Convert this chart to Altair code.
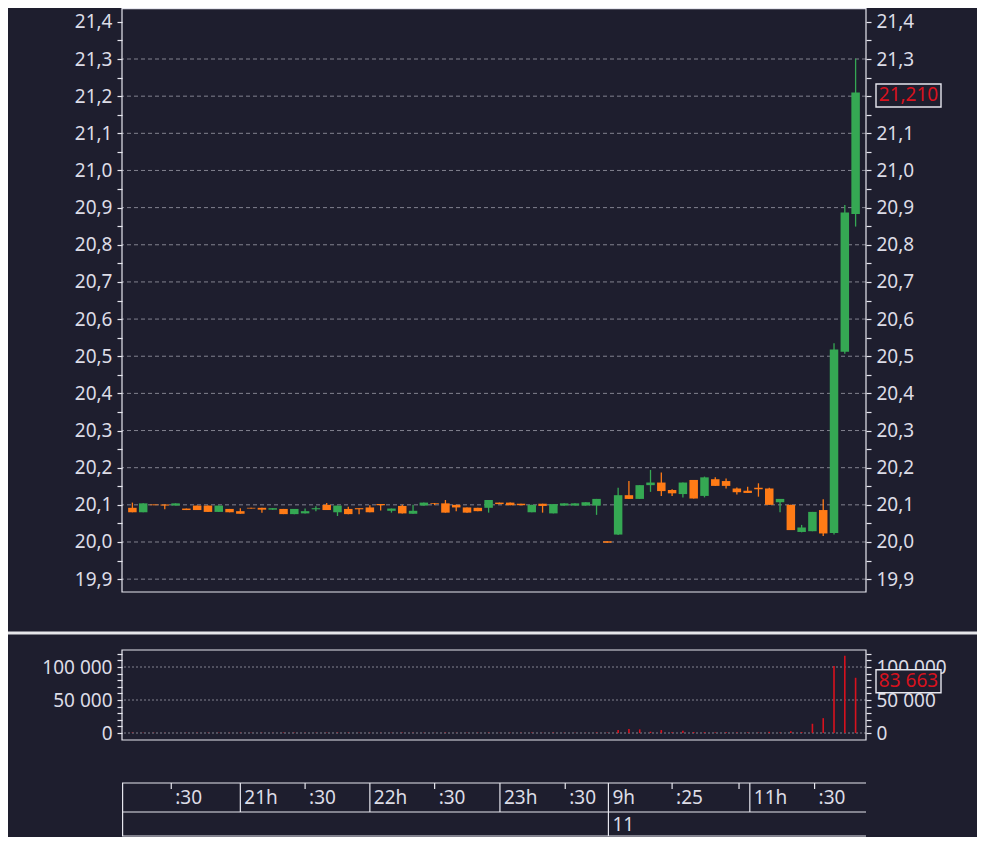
import altair as alt
import pandas as pd

# ---------------- data ----------------
opens = [20.092, 20.080, 20.101, 20.101, 20.098, 20.090, 20.098, 20.098, 20.081, 20.089,
         20.083, 20.092, 20.092, 20.087, 20.089, 20.075, 20.077, 20.088, 20.100, 20.080,
         20.089, 20.091, 20.093, 20.102, 20.084, 20.097, 20.076, 20.098, 20.105, 20.104,
         20.100, 20.093, 20.092, 20.092, 20.106, 20.106, 20.103, 20.080, 20.103, 20.077,
         20.098, 20.098, 20.098, 20.098, 20.002, 20.020, 20.126, 20.116, 20.153, 20.160,
         20.140, 20.129, 20.167, 20.124, 20.169, 20.164, 20.144, 20.138, 20.146, 20.144,
         20.107, 20.100, 20.027, 20.029, 20.086, 20.024, 20.512, 20.883]
closes = [20.080, 20.104, 20.099, 20.098, 20.104, 20.086, 20.086, 20.081, 20.098, 20.080,
          20.076, 20.090, 20.087, 20.091, 20.075, 20.089, 20.083, 20.091, 20.086, 20.098,
          20.075, 20.088, 20.080, 20.099, 20.090, 20.077, 20.084, 20.106, 20.103, 20.079,
          20.093, 20.079, 20.083, 20.113, 20.102, 20.099, 20.099, 20.100, 20.097, 20.102,
          20.104, 20.104, 20.107, 20.116, 19.998, 20.126, 20.116, 20.153, 20.160, 20.137,
          20.131, 20.160, 20.117, 20.174, 20.151, 20.151, 20.134, 20.132, 20.142, 20.100,
          20.116, 20.032, 20.039, 20.081, 20.023, 20.518, 20.887, 21.210]
highs = [20.106, 20.104, 20.101, 20.101, 20.104, 20.090, 20.098, 20.098, 20.098, 20.089,
         20.091, 20.092, 20.092, 20.091, 20.089, 20.089, 20.090, 20.096, 20.105, 20.098,
         20.095, 20.091, 20.099, 20.102, 20.090, 20.100, 20.100, 20.106, 20.105, 20.113,
         20.100, 20.093, 20.092, 20.113, 20.106, 20.106, 20.103, 20.100, 20.103, 20.102,
         20.104, 20.104, 20.107, 20.116, 20.002, 20.146, 20.164, 20.153, 20.194, 20.187,
         20.142, 20.160, 20.167, 20.176, 20.174, 20.171, 20.147, 20.149, 20.158, 20.146,
         20.116, 20.100, 20.046, 20.081, 20.115, 20.535, 20.907, 21.301]
lows = [20.080, 20.080, 20.099, 20.088, 20.098, 20.086, 20.086, 20.081, 20.081, 20.080,
        20.076, 20.090, 20.079, 20.087, 20.075, 20.075, 20.077, 20.083, 20.086, 20.070,
        20.075, 20.075, 20.080, 20.085, 20.079, 20.077, 20.076, 20.098, 20.099, 20.079,
        20.083, 20.079, 20.083, 20.079, 20.102, 20.099, 20.099, 20.080, 20.079, 20.077,
        20.098, 20.098, 20.098, 20.073, 19.998, 20.019, 20.116, 20.116, 20.135, 20.124,
        20.124, 20.120, 20.117, 20.120, 20.151, 20.144, 20.128, 20.132, 20.122, 20.100,
        20.080, 20.032, 20.026, 20.029, 20.016, 20.020, 20.507, 20.849]
volumes = [600, 300, 200, 250, 150, 300, 500, 400, 450, 350,
           500, 200, 300, 250, 700, 600, 400, 350, 500, 650,
           550, 300, 500, 300, 350, 600, 400, 450, 250, 700,
           300, 450, 400, 600, 250, 300, 200, 650, 300, 700,
           250, 200, 300, 800, 600, 4500, 6000, 5500, 2000, 4500,
           1200, 3500, 1500, 1300, 900, 1000, 700, 800, 600, 1800,
           900, 2800, 1400, 14000, 22500, 101500, 117000, 83663]

price_axis_values = [round(19.9 + 0.05 * k, 2) for k in range(31)]
price_grid_values = [19.9, 20.0, 20.1, 20.2, 20.3, 20.4, 20.5, 20.6, 20.7, 20.8, 20.9, 21.0, 21.1, 21.2, 21.3]
vol_axis_values = [0, 10000, 20000, 30000, 40000, 50000, 60000, 70000, 80000, 90000, 100000, 110000, 120000]
vol_grid_values = [0, 50000, 100000]

time_tick_pos = [3.6, 16.0, 28.0, 40.1, 50.0, 56.2, 63.2]
hour_div_pos = [10.0, 22.0, 34.05, 57.2]
day_div_pos = [44.1]
time_label_pos = [3.6, 10.0, 16.0, 22.0, 28.0, 34.05, 40.1, 44.1, 50.0, 57.2, 63.2]
time_labels = [":30", "21h", ":30", "22h", ":30", "23h", ":30", "9h", ":25", "11h", ":30"]
day_label_pos = [44.1]
day_labels = ["11"]

# ---------------- style ----------------
BG = "#1e1e2e"
FG = "#dcdce6"
LINE = "#e6e6ee"
GRID = "#82828f"
GREEN = "#35a853"
ORANGE = "#ff7b16"
RED = "#d8121e"
FONT = "Noto Sans"
FS = 19
W = 744
H = 829
BOX = "M-1.3,-0.46L1.3,-0.46L1.3,0.46L-1.3,0.46Z"

n = len(opens)
df = pd.DataFrame({"i": list(range(n)), "open": opens, "high": highs, "low": lows,
                   "close": closes, "vol": volumes})
df["dir"] = ["up" if c >= o else "down" for o, c in zip(opens, closes)]

xscale = alt.Scale(domain=[-0.5, n - 0.5], nice=False, zero=False)
price_scale = alt.Scale(domain=[19.8654, 21.4373], range=[584, 0], nice=False, zero=False)
vol_scale = alt.Scale(domain=[-10606, 125758], range=[732, 642], nice=False, zero=False)

price_expr = ("abs(datum.value * 10 - round(datum.value * 10)) < 0.01 ? "
              "replace(format(datum.value, '.1f'), '.', ',') : ''")
# on the right side the last-price box covers the 21,2 label
price_expr_right = ("abs(datum.value * 10 - round(datum.value * 10)) < 0.01 && "
                    "abs(datum.value - 21.2) > 0.01 ? "
                    "replace(format(datum.value, '.1f'), '.', ',') : ''")
vol_expr = "datum.value % 50000 == 0 ? replace(format(datum.value, ','), ',', ' ') : ''"


def make_axis(orient, values, expr):
    return alt.Axis(orient=orient, values=values, labelExpr=expr, title=None, grid=False,
                    domain=False, ticks=True, tickSize=5, tickWidth=1.2, tickColor=LINE,
                    labelPadding=5, labelFont=FONT, labelFontSize=FS, labelColor=FG,
                    labelOverlap=False)


def axis_layer(values, field, scale, orient, expr):
    return alt.Chart(pd.DataFrame({field: values})).mark_rule(opacity=0).encode(
        y=alt.Y(f"{field}:Q", scale=scale, axis=make_axis(orient, values, expr)))


X = alt.X("i:Q", scale=xscale, axis=None)
color_enc = alt.Color("dir:N", scale=alt.Scale(domain=["up", "down"], range=[GREEN, ORANGE]),
                      legend=None)
base = alt.Chart(df)

# ---- candles panel ----
grid = alt.Chart(pd.DataFrame({"p": price_grid_values})).mark_rule(
    color=GRID, strokeDash=[4, 3], strokeWidth=1).encode(
    y=alt.Y("p:Q", scale=price_scale, axis=None))
wicks = base.mark_rule(strokeWidth=1.3).encode(
    x=X, y=alt.Y("low:Q", scale=price_scale, axis=None), y2="high:Q", color=color_enc)
bodies = base.mark_bar(width=8.5).encode(
    x=X, y=alt.Y("open:Q", scale=price_scale, axis=None), y2="close:Q", color=color_enc)
last = base.transform_filter(f"datum.i == {n - 1}").transform_calculate(
    plbl="replace(format(datum.close, '.3f'), '.', ',')",
    vlbl="replace(format(datum.vol, ','), ',', ' ')")
pbox = last.mark_point(shape=BOX, size=2500, filled=True, fill=BG, fillOpacity=1, opacity=1,
                       stroke=LINE, strokeWidth=1.4, yOffset=3).encode(
    x=alt.value(786.5), y=alt.Y("close:Q", scale=price_scale, axis=None))
ptxt = last.mark_text(color=RED, font=FONT, fontSize=FS, align="center", baseline="middle",
                      yOffset=3).encode(
    x=alt.value(786.5), y=alt.Y("close:Q", scale=price_scale, axis=None), text="plbl:N")
candles = alt.layer(grid, wicks, bodies, pbox, ptxt)

price_left = axis_layer(price_axis_values, "p", price_scale, "left", price_expr)
price_right = axis_layer(price_axis_values, "p", price_scale, "right", price_expr_right)

# ---- volume panel ----
vgrid = alt.Chart(pd.DataFrame({"v": vol_grid_values})).mark_rule(
    color=GRID, strokeDash=[2, 2], strokeWidth=1).encode(
    y=alt.Y("v:Q", scale=vol_scale, axis=None))
vbars = base.mark_rule(color=RED, strokeWidth=1.6).encode(
    x=X, y=alt.Y("vol:Q", scale=vol_scale, axis=None), y2=alt.Y2Datum(0))
vbox = last.mark_point(shape=BOX, size=2500, filled=True, fill=BG, fillOpacity=1, opacity=1,
                       stroke=LINE, strokeWidth=1.4, yOffset=3.5).encode(
    x=alt.value(786.5), y=alt.Y("vol:Q", scale=vol_scale, axis=None))
vtxt = last.mark_text(color=RED, font=FONT, fontSize=FS, align="center", baseline="middle",
                      yOffset=3.5).encode(
    x=alt.value(786.5), y=alt.Y("vol:Q", scale=vol_scale, axis=None), text="vlbl:N")
vol = alt.layer(vgrid, vbars, vbox, vtxt)

vol_left = axis_layer(vol_axis_values, "v", vol_scale, "left", vol_expr)
vol_right = axis_layer(vol_axis_values, "v", vol_scale, "right", vol_expr)

# ---- frames & separators ----
one = pd.DataFrame({"k": [0]})
frame1 = alt.Chart(one).mark_rect(fillOpacity=0, stroke=LINE, strokeWidth=1.2).encode(
    x=alt.value(0), x2=alt.value(W), y=alt.value(0.6), y2=alt.value(584))
frame2 = alt.Chart(one).mark_rect(fillOpacity=0, stroke=LINE, strokeWidth=1.2).encode(
    x=alt.value(0), x2=alt.value(W), y=alt.value(642), y2=alt.value(732))
sep = alt.Chart(one).mark_rule(color="#e6e6ea", strokeWidth=3).encode(
    x=alt.value(-114), x2=alt.value(W + 111), y=alt.value(625))


def hline(y):
    return alt.Chart(one).mark_rule(color=LINE, strokeWidth=1.2).encode(
        x=alt.value(0), x2=alt.value(W), y=alt.value(y))


t_top, t_mid, t_bot = 775, 804, 828
tlines = [hline(t_top), hline(t_mid), hline(t_bot),
          alt.Chart(one).mark_rule(color=LINE, strokeWidth=1.2).encode(
              x=alt.value(0.6), y=alt.value(t_top), y2=alt.value(t_bot))]
hdiv = alt.Chart(pd.DataFrame({"pos": hour_div_pos})).mark_rule(color=LINE, strokeWidth=1.2).encode(
    x=alt.X("pos:Q", scale=xscale, axis=None), y=alt.value(t_top), y2=alt.value(t_mid))
ddiv = alt.Chart(pd.DataFrame({"pos": day_div_pos})).mark_rule(color=LINE, strokeWidth=1.2).encode(
    x=alt.X("pos:Q", scale=xscale, axis=None), y=alt.value(t_top), y2=alt.value(t_bot))
tticks = alt.Chart(pd.DataFrame({"pos": time_tick_pos})).mark_rule(color=LINE, strokeWidth=1.2).encode(
    x=alt.X("pos:Q", scale=xscale, axis=None), y=alt.value(t_top), y2=alt.value(t_top + 6))
tlabels = alt.Chart(pd.DataFrame({"pos": time_label_pos, "lbl": time_labels})).mark_text(
    align="left", baseline="middle", dx=4, font=FONT, fontSize=FS, color=FG).encode(
    x=alt.X("pos:Q", scale=xscale, axis=None), y=alt.value(790), text="lbl:N")
dlabels = alt.Chart(pd.DataFrame({"pos": day_label_pos, "lbl": day_labels})).mark_text(
    align="left", baseline="middle", dx=4, font=FONT, fontSize=FS, color=FG).encode(
    x=alt.X("pos:Q", scale=xscale, axis=None), y=alt.value(817), text="lbl:N")

chart = alt.layer(
    price_left, price_right, vol_left, vol_right, candles, vol, frame1, frame2, sep,
    *tlines, hdiv, ddiv, tticks, tlabels, dlabels
).resolve_scale(y="independent").properties(
    width=W, height=H,
    padding={"left": 114, "top": 0, "right": 111, "bottom": 0},
    autosize=alt.AutoSizeParams(type="none"),
).configure(background=BG).configure_view(stroke=None)

chart.save("out.html", embed_options={"renderer": "svg", "actions": False})
